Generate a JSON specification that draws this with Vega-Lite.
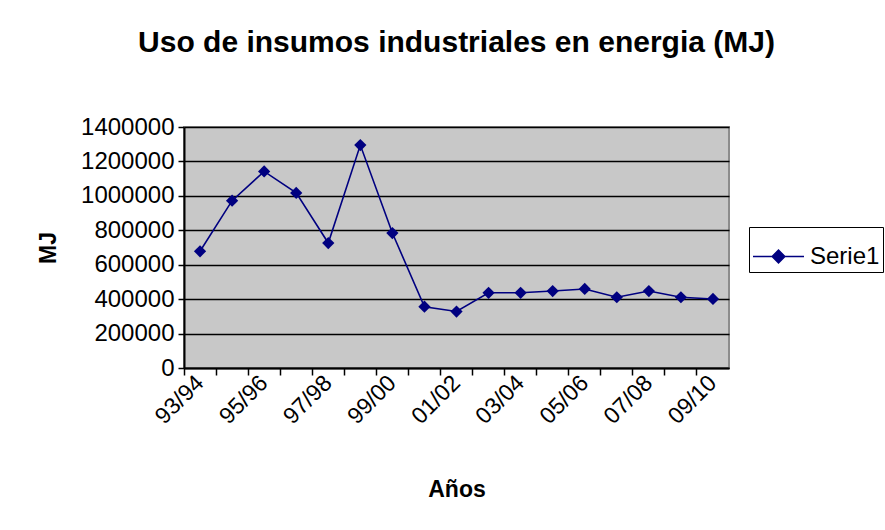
{
  "$schema": "https://vega.github.io/schema/vega-lite/v6.json",
  "autosize": {"type": "none"},
  "padding": {"left": 184, "top": 127, "right": 156, "bottom": 162},
  "width": 545,
  "height": 241,
  "background": "white",
  "title": {
    "text": "Uso de insumos industriales en energia (MJ)",
    "font": "Liberation Sans",
    "fontSize": 30,
    "fontWeight": "bold",
    "color": "black",
    "anchor": "middle",
    "offset": 57
  },
  "data": {
    "values": [
      {"year": "93/94", "mj": 678000, "serie": "Serie1"},
      {"year": "94/95", "mj": 972000, "serie": "Serie1"},
      {"year": "95/96", "mj": 1142000, "serie": "Serie1"},
      {"year": "96/97", "mj": 1017000, "serie": "Serie1"},
      {"year": "97/98", "mj": 726000, "serie": "Serie1"},
      {"year": "98/99", "mj": 1295000, "serie": "Serie1"},
      {"year": "99/00", "mj": 784000, "serie": "Serie1"},
      {"year": "00/01", "mj": 356000, "serie": "Serie1"},
      {"year": "01/02", "mj": 328000, "serie": "Serie1"},
      {"year": "02/03", "mj": 437000, "serie": "Serie1"},
      {"year": "03/04", "mj": 437000, "serie": "Serie1"},
      {"year": "04/05", "mj": 447000, "serie": "Serie1"},
      {"year": "05/06", "mj": 459000, "serie": "Serie1"},
      {"year": "06/07", "mj": 411000, "serie": "Serie1"},
      {"year": "07/08", "mj": 447000, "serie": "Serie1"},
      {"year": "08/09", "mj": 411000, "serie": "Serie1"},
      {"year": "09/10", "mj": 401000, "serie": "Serie1"}
    ]
  },
  "encoding": {
    "x": {
      "field": "year",
      "type": "ordinal",
      "sort": null,
      "scale": {"type": "band", "paddingInner": 0, "paddingOuter": 0},
      "axis": {
        "title": "Años",
        "titleFont": "Liberation Sans",
        "titleFontSize": 23,
        "titleFontWeight": "bold",
        "titleColor": "black",
        "titlePadding": 50,
        "labelFont": "Liberation Sans",
        "labelFontSize": 23,
        "labelColor": "black",
        "labelAngle": -45,
        "labelAlign": "right",
        "labelBaseline": "middle",
        "labelPadding": 4,
        "labelOverlap": false,
        "labelExpr": "indexof(['93/94','95/96','97/98','99/00','01/02','03/04','05/06','07/08','09/10'], datum.value) >= 0 ? datum.value : ''",
        "bandPosition": 0,
        "tickColor": "black",
        "tickSize": 7,
        "tickWidth": 1.5,
        "domainColor": "black",
        "domainWidth": 2,
        "grid": false
      }
    },
    "y": {
      "field": "mj",
      "type": "quantitative",
      "scale": {"domain": [0, 1400000], "nice": false},
      "axis": {
        "title": "MJ",
        "titleFont": "Liberation Sans",
        "titleFontSize": 23,
        "titleFontWeight": "bold",
        "titleColor": "black",
        "titlePadding": 20,
        "labelFont": "Liberation Sans",
        "labelFontSize": 24,
        "labelColor": "black",
        "labelPadding": 4,
        "values": [0, 200000, 400000, 600000, 800000, 1000000, 1200000, 1400000],
        "format": "d",
        "tickColor": "black",
        "tickSize": 6,
        "tickWidth": 1.5,
        "domainColor": "black",
        "domainWidth": 2,
        "grid": true,
        "gridColor": "black",
        "gridWidth": 1.5,
        "gridOpacity": 1
      }
    },
    "color": {
      "field": "serie",
      "type": "nominal",
      "scale": {"range": ["#000080"]},
      "legend": {
        "title": null,
        "orient": "none",
        "legendX": 565,
        "legendY": 100,
        "strokeColor": "black",
        "padding": 3,
        "labelFont": "Liberation Sans",
        "labelFontSize": 24,
        "labelColor": "black",
        "symbolType": "M-1,0H-0.25L0,-0.25L0.25,0L0,0.25L-0.25,0ZM0.25,0H1",
        "symbolSize": 2600,
        "symbolStrokeWidth": 1.5,
        "symbolFillColor": "#000080",
        "symbolStrokeColor": "#000080",
        "labelOffset": 5
      }
    }
  },
  "layer": [
    {"mark": {"type": "line", "strokeWidth": 1.6}},
    {"mark": {"type": "point", "shape": "diamond", "filled": true, "size": 150, "opacity": 1}}
  ],
  "config": {
    "view": {"fill": "#c8c8c8", "stroke": "#8c8c8c", "strokeWidth": 2}
  }
}
